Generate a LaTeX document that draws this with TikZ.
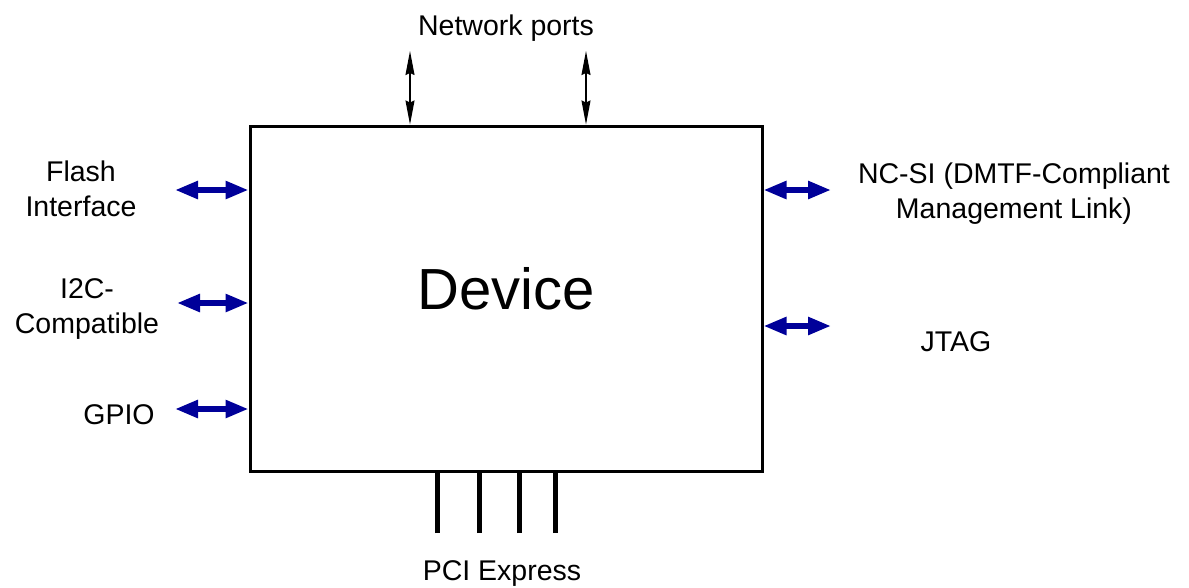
\documentclass[tikz,border=0pt]{standalone}
\usepackage{fontspec}
\setmainfont{Liberation Sans}
\usepackage{xcolor}
\definecolor{pblue}{HTML}{000099}
\usepackage{tikz}
\usetikzlibrary{arrows.meta,positioning,calc}
\tikzset{
  lab/.style={font=\fontsize{28.5}{35}\selectfont,align=center,inner sep=0pt},
  barr/.style={{Triangle[length=23pt,width=17pt]}-{Triangle[length=23pt,width=17pt]},draw=pblue,fill=pblue,line width=5.5pt},
  narr/.style={{Stealth[length=24pt,width=9pt,inset=2pt]}-{Stealth[length=24pt,width=9pt,inset=2pt]},line width=1.4pt},
  lane/.style={line width=5pt},
}
\begin{document}
\begin{tikzpicture}[x=1pt,y=-1pt]
\useasboundingbox (0,0) rectangle (1189,587);
\node[draw,line width=3pt,minimum width=512pt,minimum height=345pt,inner sep=0pt] (device) at (506,298.5) {};
\node[lab,font=\fontsize{58}{60}\selectfont] (devlab) at (506,289) {Device};
% labels
\node[lab] (net) at (506,28) {Network ports};
\node[lab] (flash) at (81,189) {Flash\\Interface};
\node[lab] (i2c) at (87,309) {I2C-\\Compatible};
\node[lab] (gpio) at (119,415) {GPIO};
\node[lab] (ncsi) at (1014,194) {NC-SI (DMTF-Compliant\\Management Link)};
\node[lab] (jtag) at (956,342) {JTAG};
\node[lab] (pci) at (502,573) {PCI Express};
% free ends
\coordinate (n1) at (410,51);
\coordinate (n2) at (586,51);
\coordinate (fl) at (175,190);
\coordinate (ic) at (177,303);
\coordinate (gp) at (175,409);
\coordinate (nc) at (831,190);
\coordinate (jt) at (831,326);
\draw[narr] (n1) -- (n1 |- device.north);
\draw[narr] (n2) -- (n2 |- device.north);
\draw[barr] (fl) -- (device.west |- fl);
\draw[barr] (ic) -- (device.west |- ic);
\draw[barr] (gp) -- (device.west |- gp);
\draw[barr] (device.east |- nc) -- (nc);
\draw[barr] (device.east |- jt) -- (jt);
\foreach \px in {437,479,519,555}{
  \coordinate (pe\px) at (\px,533);
  \draw[lane] (pe\px) -- (pe\px |- device.south);
}
\end{tikzpicture}
\end{document}
